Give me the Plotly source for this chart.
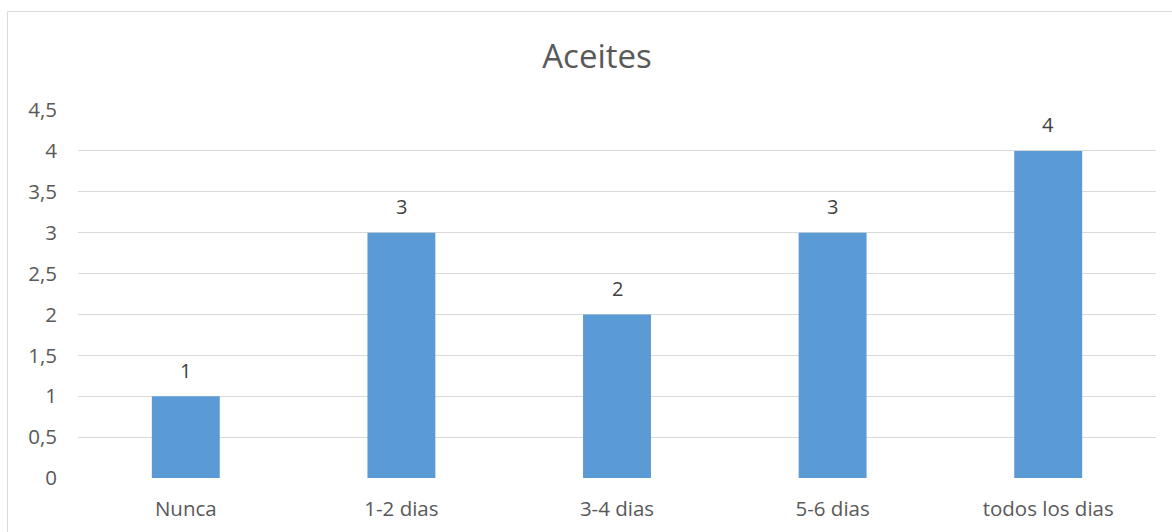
import plotly.graph_objects as go

categories = ["Nunca", "1-2 dias", "3-4 dias", "5-6 dias", "todos los dias"]
values = [1, 3, 2, 3, 4]
y_tickvals = [0, 0.5, 1, 1.5, 2, 2.5, 3, 3.5, 4, 4.5]

FONT = "'Open Sans', sans-serif"
W, H = 1172, 532
ML, MR, MT, MB = 78, 16, 110, 54
pw = W - ML - MR
ph = H - MT - MB

fig = go.Figure()
fig.add_trace(go.Bar(
    x=categories, y=values,
    marker=dict(color="#5B9BD5", line=dict(width=0)),
    width=0.315,
    hoverinfo="skip",
))

annotations = [
    dict(x=c, y=v, xref="x", yref="y", text=str(v), showarrow=False,
         yshift=26, font=dict(family=FONT, size=20, color="#404040"))
    for c, v in zip(categories, values)
]

# chart border (top and left visible; right/bottom are cropped out)
bx0 = (7.5 - ML) / pw
by1 = 1 + (MT - 11.5) / ph
shapes = [dict(type="rect", xref="paper", yref="paper",
               x0=bx0, x1=1.2, y0=-0.5, y1=by1,
               line=dict(color="#D9D9D9", width=1), layer="below")]

fig.update_layout(
    width=W, height=H,
    margin=dict(l=ML, r=MR, t=MT, b=MB, pad=0),
    paper_bgcolor="white", plot_bgcolor="white",
    separators=",.",
    showlegend=False,
    title=dict(text="Aceites", x=(597) / W, xanchor="center",
               y=1 - 56 / H, yanchor="middle", yref="container",
               font=dict(family=FONT, size=33, color="#595959")),
    xaxis=dict(showgrid=False, showline=False, zeroline=False,
               tickfont=dict(family=FONT, size=20.5, color="#595959"),
               ticks="", ticklabelstandoff=16, fixedrange=True,
               automargin=False),
    yaxis=dict(range=[0, 4.5], tickvals=y_tickvals,
               showgrid=True, gridcolor="#D9D9D9", gridwidth=1,
               zeroline=False, showline=False,
               tickfont=dict(family=FONT, size=20.5, color="#595959"),
               ticks="", ticklabelstandoff=20, fixedrange=True,
               automargin=False),
    annotations=annotations,
    shapes=shapes,
    font=dict(family=FONT),
)

fig.write_html("out.html")
